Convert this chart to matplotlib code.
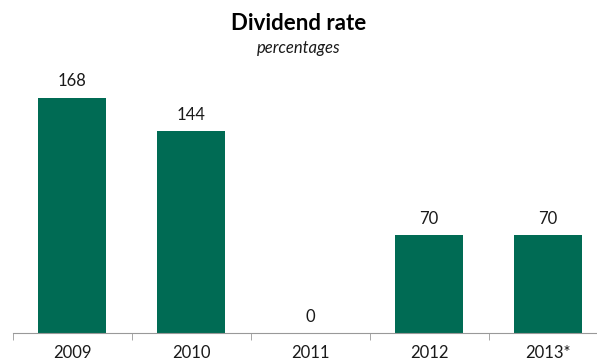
import matplotlib.pyplot as plt
import numpy as np

years = ["2009", "2010", "2011", "2012", "2013*"]
rates = [168, 144, 0, 70, 70]

W, H = 597, 362
fig = plt.figure(figsize=(W / 100, H / 100), dpi=100)
plt.rcParams['font.family'] = ['Lato', 'DejaVu Sans']

# axes run past the right edge, like the original layout
ax = fig.add_axes([12.5 / W, 29 / H, 595 / W, 252 / H])
x = np.arange(len(years))
ax.bar(x, rates, width=0.57, color="#006B54")
ax.set_xlim(-0.5, 4.5)
ax.set_ylim(0, 180)

for xi, v in zip(x, rates):
    ax.annotate(str(v), (xi, v), xytext=(0, 6), textcoords="offset points",
                ha="center", va="bottom", fontsize=12, color="#1a1a1a")

for s in ["top", "right", "left"]:
    ax.spines[s].set_visible(False)
ax.spines["bottom"].set_color("#999999")
ax.set_yticks([])
ax.set_xticks(x)
ax.set_xticklabels(years, fontsize=12, color="#1a1a1a")
ax.tick_params(axis="x", which="major", length=0, pad=9)
ax.set_xticks(np.arange(-0.5, 5, 1), minor=True)
ax.tick_params(axis="x", which="minor", length=5, color="#999999", direction="out")

fig.text(0.5, 1 - 23 / H, "Dividend rate", ha="center", va="center",
         fontsize=16, fontweight="bold", color="#000000")
fig.text(0.5, 1 - 48 / H, "percentages", ha="center", va="center",
         fontsize=12, style="italic", color="#1a1a1a")

fig.savefig("out.png", dpi=100)
